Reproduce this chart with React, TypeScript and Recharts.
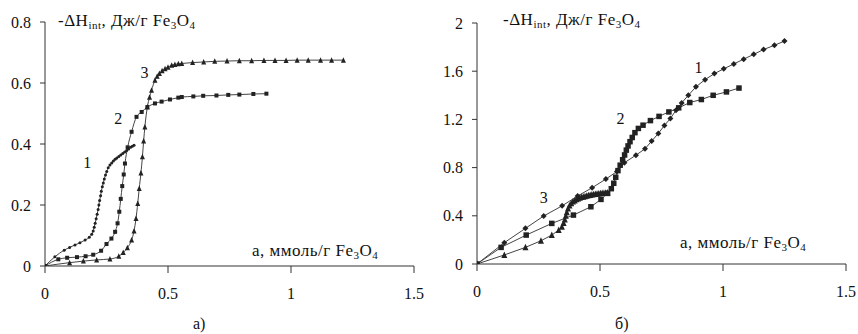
import React from "react";
import { LineChart, Line, XAxis, YAxis, ReferenceDot } from "recharts";

// а) — left panel, [a, -dH]
const leftCurve1 = [
  [0, 0], [0.04, 0.03], [0.078, 0.052], [0.1, 0.061], [0.122, 0.069], [0.142, 0.076],
  [0.163, 0.085], [0.18, 0.094], [0.19, 0.104], [0.196, 0.115], [0.2, 0.127], [0.204, 0.14],
  [0.208, 0.155], [0.212, 0.17], [0.216, 0.185], [0.219, 0.2], [0.222, 0.215], [0.226, 0.23],
  [0.229, 0.245], [0.233, 0.26], [0.237, 0.272], [0.241, 0.285], [0.246, 0.298], [0.251, 0.31],
  [0.257, 0.322], [0.264, 0.331], [0.271, 0.338], [0.278, 0.344], [0.285, 0.35], [0.292, 0.354],
  [0.3, 0.359], [0.308, 0.364], [0.316, 0.369], [0.324, 0.374], [0.332, 0.379], [0.34, 0.384],
  [0.348, 0.389], [0.355, 0.393], [0.362, 0.396],
];
const leftCurve2 = [
  [0, 0], [0.054, 0.022], [0.09, 0.027], [0.13, 0.029], [0.165, 0.032], [0.196, 0.037],
  [0.228, 0.05], [0.25, 0.072], [0.27, 0.09], [0.285, 0.112], [0.295, 0.14], [0.302, 0.178],
  [0.308, 0.22], [0.314, 0.262], [0.32, 0.3], [0.325, 0.336], [0.336, 0.389], [0.352, 0.44],
  [0.372, 0.489], [0.393, 0.505], [0.416, 0.521], [0.447, 0.533], [0.474, 0.539], [0.508, 0.546],
  [0.542, 0.552], [0.556, 0.554], [0.603, 0.556], [0.643, 0.558], [0.697, 0.559], [0.745, 0.561],
  [0.79, 0.562], [0.847, 0.564], [0.9, 0.565],
];
const leftCurve3 = [
  [0, 0], [0.1, 0.011], [0.156, 0.016], [0.21, 0.02], [0.264, 0.023], [0.3, 0.032],
  [0.318, 0.044], [0.335, 0.06], [0.352, 0.085], [0.362, 0.115], [0.37, 0.156], [0.377, 0.205],
  [0.383, 0.254], [0.39, 0.305], [0.396, 0.358], [0.401, 0.41], [0.406, 0.456], [0.416, 0.521],
  [0.425, 0.553], [0.433, 0.576], [0.447, 0.609], [0.456, 0.622], [0.465, 0.631], [0.476, 0.64],
  [0.488, 0.647], [0.5, 0.652], [0.515, 0.658], [0.528, 0.661], [0.542, 0.663], [0.556, 0.664],
  [0.6, 0.667], [0.645, 0.669], [0.69, 0.671], [0.74, 0.672], [0.79, 0.673], [0.84, 0.673],
  [0.89, 0.674], [0.935, 0.674], [0.98, 0.674], [1.025, 0.675], [1.07, 0.675], [1.12, 0.675],
  [1.165, 0.675], [1.213, 0.675],
];

// б) — right panel
const rightCurve1 = [
  [0, 0], [0.111, 0.177], [0.197, 0.296], [0.271, 0.398], [0.346, 0.483], [0.409, 0.564],
  [0.468, 0.633], [0.524, 0.705], [0.569, 0.768], [0.599, 0.84], [0.646, 0.903], [0.683, 0.956],
  [0.71, 1.02], [0.737, 1.083], [0.762, 1.15], [0.786, 1.207], [0.809, 1.276], [0.832, 1.337],
  [0.859, 1.4], [0.89, 1.47], [0.927, 1.53], [0.965, 1.58], [1.003, 1.62], [1.044, 1.66],
  [1.084, 1.7], [1.125, 1.74], [1.165, 1.78], [1.209, 1.815], [1.25, 1.85],
];
const rightCurve2 = [
  [0, 0], [0.098, 0.138], [0.2, 0.24], [0.304, 0.337], [0.392, 0.406], [0.463, 0.475],
  [0.504, 0.536], [0.531, 0.586], [0.546, 0.625], [0.556, 0.67], [0.564, 0.72], [0.573, 0.775],
  [0.582, 0.82], [0.592, 0.865], [0.6, 0.905], [0.607, 0.945], [0.614, 0.98], [0.622, 1.015],
  [0.631, 1.05], [0.642, 1.09], [0.656, 1.125], [0.675, 1.152], [0.705, 1.19], [0.74, 1.225],
  [0.78, 1.262], [0.82, 1.296], [0.865, 1.34], [0.912, 1.365], [0.96, 1.4], [1.014, 1.428],
  [1.065, 1.46],
];
const rightCurve3 = [
  [0, 0], [0.111, 0.075], [0.197, 0.138], [0.26, 0.193], [0.304, 0.24], [0.332, 0.282],
  [0.345, 0.31], [0.352, 0.34], [0.357, 0.37], [0.361, 0.4], [0.365, 0.43], [0.37, 0.46],
  [0.376, 0.485], [0.383, 0.505], [0.39, 0.518], [0.397, 0.528], [0.404, 0.537], [0.411, 0.544],
  [0.418, 0.55], [0.425, 0.555], [0.432, 0.559], [0.439, 0.563], [0.446, 0.567], [0.453, 0.57],
  [0.46, 0.573], [0.467, 0.576], [0.474, 0.579], [0.481, 0.581], [0.488, 0.583], [0.495, 0.585],
  [0.502, 0.587], [0.509, 0.589], [0.516, 0.59], [0.523, 0.592], [0.53, 0.594],
];

const xTicks = [0, 0.5, 1, 1.5];
const leftYTicks = [0, 0.2, 0.4, 0.6, 0.8];
const rightYTicks = [0, 0.4, 0.8, 1.2, 1.6, 2];

const leftNotes = [
  { x: 0.172, y: 0.341, t: "1" },
  { x: 0.298, y: 0.483, t: "2" },
  { x: 0.404, y: 0.636, t: "3" },
];
const rightNotes = [
  { x: 0.9, y: 1.635, t: "1" },
  { x: 0.583, y: 1.208, t: "2" },
  { x: 0.271, y: 0.553, t: "3" },
];

const toRows = (pts: number[][]) => pts.map(([a, h]) => ({ a, h }));

const font = "Liberation Serif, DejaVu Serif, serif";
const ink = "#222";

function marker(shape: string, s: number) {
  return (p: any) => {
    const { cx, cy, index } = p;
    if (cx == null || cy == null) return <g key={index} />;
    const h = s / 2;
    if (shape === "square")
      return <rect key={index} x={cx - h} y={cy - h} width={s} height={s} fill={ink} />;
    if (shape === "triangle")
      return (
        <polygon key={index} fill={ink}
          points={`${cx},${cy - h - 0.5} ${cx - h},${cy + h} ${cx + h},${cy + h}`} />
      );
    if (shape === "diamond")
      return (
        <polygon key={index} fill={ink}
          points={`${cx},${cy - h} ${cx + h},${cy} ${cx},${cy + h} ${cx - h},${cy}`} />
      );
    return <circle key={index} cx={cx} cy={cy} r={h} fill={ink} />;
  };
}

const Sub = ({ children }: any) => (
  <span style={{ fontSize: 11, position: "relative", top: 3 }}>{children}</span>
);

const YTitle = () => (
  <>-ΔH<Sub>int</Sub>, Дж/г Fe<Sub>3</Sub>O<Sub>4</Sub></>
);
const XTitle = () => (
  <>а, ммоль/г Fe<Sub>3</Sub>O<Sub>4</Sub></>
);

const txt = (left: number, top: number, title = false): React.CSSProperties => ({
  position: "absolute", left, top, fontFamily: font, fontSize: title ? 17 : 16,
  letterSpacing: title ? 0.5 : 0,
  lineHeight: "16px", color: "#111", whiteSpace: "nowrap",
});

const tick = { fill: "#111", fontSize: 16, fontFamily: font };
const axisLine = { stroke: "#333", strokeWidth: 1 };

function Panel({ curves, shapes, sizes, yTicks, yMax, notes, yWidth, margin, smooth }: any) {
  return (
    <LineChart width={430} height={334} margin={margin} style={{ fontFamily: font }}>
      <XAxis type="number" dataKey="a" domain={[0, 1.5]} ticks={xTicks} height={margin.xh}
        axisLine={axisLine} tickLine={axisLine} tickSize={7} tickMargin={15} tick={tick}
        allowDataOverflow />
      <YAxis type="number" dataKey="h" domain={[0, yMax]} ticks={yTicks} width={yWidth}
        axisLine={axisLine} tickLine={axisLine} tickSize={5} tickMargin={9} tick={tick}
        allowDataOverflow />
      {curves.map((c: number[][], i: number) => (
        <Line key={i} data={toRows(c)} dataKey="h" type={smooth ? "monotone" : "linear"}
          stroke="#444" strokeWidth={1} dot={marker(shapes[i], sizes[i])}
          activeDot={false} isAnimationActive={false} />
      ))}
      {notes.map((n: any) => (
        <ReferenceDot key={n.t} x={n.x} y={n.y} r={0}
          label={{ value: n.t, position: "center", fill: "#111", fontSize: 16, fontFamily: font }} />
      ))}
    </LineChart>
  );
}

export default function App() {
  return (
    <div style={{ position: "absolute", left: 0, top: 0, width: 858, height: 334, background: "#fff", fontFamily: font }}>
      <div style={{ position: "absolute", left: 0, top: 0 }}>
        <Panel curves={[leftCurve1, leftCurve2, leftCurve3]}
          shapes={["circle", "square", "triangle"]} sizes={[3, 4, 5]}
          yTicks={leftYTicks} yMax={0.8} notes={leftNotes} yWidth={45} smooth
          margin={{ top: 22, right: 16, left: 0, bottom: 0, xh: 68 }} />
      </div>
      <div style={{ position: "absolute", left: 428, top: 0 }}>
        <Panel curves={[rightCurve1, rightCurve2, rightCurve3]}
          shapes={["diamond", "square", "triangle"]} sizes={[6, 5.5, 6]}
          yTicks={rightYTicks} yMax={2} notes={rightNotes} yWidth={49} smooth={false}
          margin={{ top: 23, right: 12, left: 0, bottom: 0, xh: 70 }} />
      </div>
      <div style={txt(58, 13, true)}><YTitle /></div>
      <div style={txt(503, 12, true)}><YTitle /></div>
      <div style={txt(252, 243, true)}><XTitle /></div>
      <div style={txt(680, 235, true)}><XTitle /></div>
      <div style={txt(193, 316)}>а)</div>
      <div style={txt(615, 316)}>б)</div>
    </div>
  );
}
